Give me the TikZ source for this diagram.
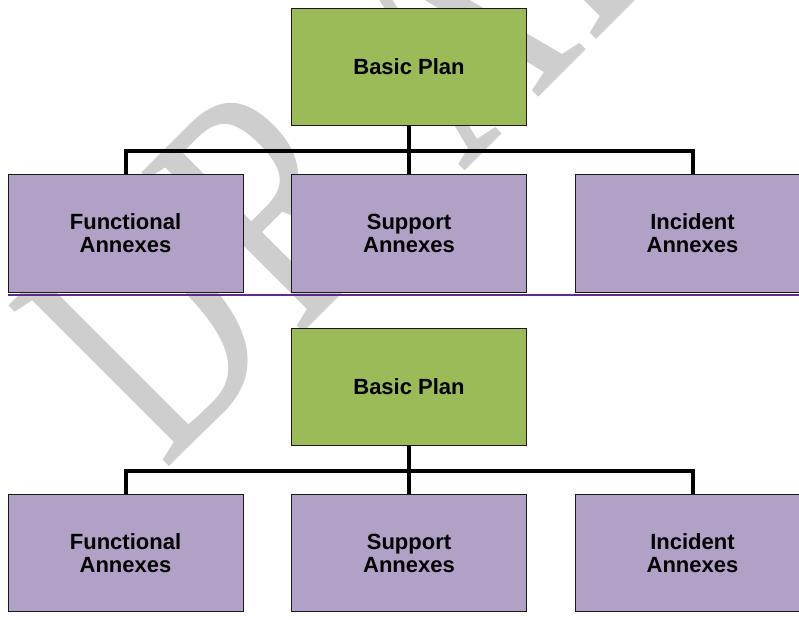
\documentclass[tikz,border=0pt]{standalone}
\usepackage{fontspec}
\setmainfont{Liberation Sans}
\newfontfamily\wmfont{Liberation Serif}
\definecolor{planGreen}{RGB}{155,187,89}
\definecolor{annexPurple}{RGB}{178,161,199}
\definecolor{ruleViolet}{RGB}{94,44,144}
\definecolor{wmGray}{RGB}{206,206,206}
\tikzset{
  box/.style={draw=black!90, line width=0.9pt, minimum width=235pt, minimum height=117.5pt,
    inner sep=0pt, align=center, font=\bfseries\fontsize{22}{23}\selectfont},
  planbox/.style={box, fill=planGreen},
  annexbox/.style={box, fill=annexPurple},
  conn/.style={line width=4pt, black, line join=miter},
  rulerline/.style={line width=2.5pt, ruleViolet},
  wmletter/.style={text=wmGray, inner sep=0pt, rotate=45, anchor=base west,
    font=\wmfont\fontsize{347}{347}\selectfont}
}
\newcommand{\wmglyph}[1]{\scalebox{0.7}[1]{#1}}
\begin{document}
\begin{tikzpicture}[x=1pt, y=1pt]
\clip (0,0) rectangle (799,-619);
\fill[white] (0,0) rectangle (799,-619);
% watermark letters
\node[wmletter] (wD) at (164,-472) {\wmglyph{D}};
\node[wmletter] (wR) at (297,-339) {\wmglyph{R}};
\node[wmletter] (wA) at (463,-173) {\wmglyph{A}};
\node[wmletter] (wF) at (590,-46) {\wmglyph{F}};
\node[wmletter] (wT) at (693,57) {\wmglyph{T}};
% top chart
\node[planbox] (bp1) at (409,-67) {Basic Plan};
\node[annexbox] (fa1) at (125.5,-233.5) {Functional\\Annexes};
\node[annexbox] (sa1) at (409,-233.5) {Support\\Annexes};
\node[annexbox] (ia1) at (692.5,-233.5) {Incident\\Annexes};
\coordinate (h1) at (409,-151);
\draw[conn] (fa1.north) |- (h1) -| (ia1.north);
\draw[conn] (bp1.south) -- (sa1.north);
% separator rule
\coordinate (r1) at (8,-295);
\coordinate (r2) at (805,-295);
\draw[rulerline] (r1) -- (r2);
% bottom chart
\node[planbox] (bp2) at (409,-387) {Basic Plan};
\node[annexbox] (fa2) at (125.5,-553) {Functional\\Annexes};
\node[annexbox] (sa2) at (409,-553) {Support\\Annexes};
\node[annexbox] (ia2) at (692.5,-553) {Incident\\Annexes};
\coordinate (h2) at (409,-470.5);
\draw[conn] (fa2.north) |- (h2) -| (ia2.north);
\draw[conn] (bp2.south) -- (sa2.north);
\end{tikzpicture}
\end{document}
